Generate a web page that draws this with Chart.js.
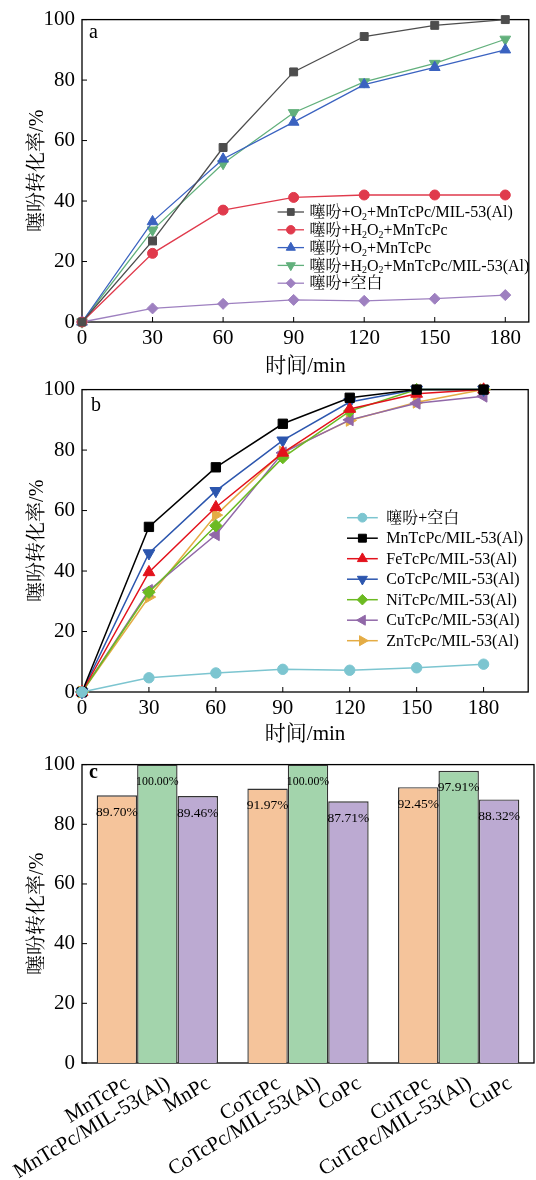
<!DOCTYPE html>
<html lang="zh">
<head>
<meta charset="UTF-8">
<title>噻吩转化率</title>
<script src="https://cdn.jsdelivr.net/npm/chart.js"></script>
<style>
  html, body { margin: 0; padding: 0; background: #fff; }
  body { width: 536px; height: 1180px; position: relative; overflow: hidden; }
  .panel { position: absolute; left: 0; width: 536px; }
  #pa { top: 0; height: 382px; }
  #pb { top: 370px; height: 380px; }
  #pc { top: 745px; height: 435px; }
</style>
</head>
<body>
<div class="panel" id="pa"><canvas id="ca"></canvas></div>
<div class="panel" id="pb"><canvas id="cb"></canvas></div>
<div class="panel" id="pc"><canvas id="cc"></canvas></div>

<script>
// ---- data ----
const timeMin = [0, 30, 60, 90, 120, 150, 180];

// panel a
const aO2MnMil   = [0, 26.8, 57.7, 82.7, 94.4, 98.1, 100];
const aH2O2Mn    = [0, 22.7, 37.0, 41.2, 42.0, 42.0, 42.0];
const aO2Mn      = [0, 33.2, 53.9, 66.1, 78.5, 84.2, 90.0];
const aH2O2MnMil = [0, 30.4, 52.4, 69.2, 79.4, 85.5, 93.5];
const aBlank     = [0, 4.5, 6.0, 7.3, 7.0, 7.7, 8.9];
const aLabels = ['噻吩+O₂+MnTcPc/MIL-53(Al)', '噻吩+H₂O₂+MnTcPc', '噻吩+O₂+MnTcPc',
                 '噻吩+H₂O₂+MnTcPc/MIL-53(Al)', '噻吩+空白'];

// panel b
const bBlank = [0, 4.7, 6.3, 7.5, 7.2, 8.0, 9.2];
const bMn    = [0, 54.6, 74.3, 88.7, 97.3, 100, 100];
const bFe    = [0, 39.6, 61.1, 79.1, 93.6, 98.6, 100];
const bCo    = [0, 45.9, 66.5, 83.2, 95.9, 100, 100];
const bNi    = [0, 33.0, 55.0, 77.5, 92.9, 100, 100];
const bCu    = [0, 33.6, 52.0, 79.1, 90.0, 95.5, 97.8];
const bZn    = [0, 31.4, 58.5, 79.4, 89.8, 95.8, 100];
const bLabels = ['噻吩+空白', 'MnTcPc/MIL-53(Al)', 'FeTcPc/MIL-53(Al)', 'CoTcPc/MIL-53(Al)',
                 'NiTcPc/MIL-53(Al)', 'CuTcPc/MIL-53(Al)', 'ZnTcPc/MIL-53(Al)'];

// panel c
const metals = ['Mn', 'Co', 'Cu'];
const tcpcNames = ['MnTcPc', 'CoTcPc', 'CuTcPc'];
const milNames  = ['MnTcPc/MIL-53(Al)', 'CoTcPc/MIL-53(Al)', 'CuTcPc/MIL-53(Al)'];
const pcNames   = ['MnPc', 'CoPc', 'CuPc'];
const tcpcVals = [89.70, 91.97, 92.45];
const milVals  = [100.00, 100.00, 97.91];
const pcVals   = [89.46, 87.71, 88.32];

const yTicks = [0, 20, 40, 60, 80, 100];

// ---- helpers ----
const SERIF = '"Liberation Serif", "Times New Roman", "Noto Serif CJK SC", "Noto Sans CJK SC", serif';
Chart.defaults.font.family = SERIF;
Chart.defaults.color = '#000';

function pts(ys) {
  return ys.map((y, i) => ({ x: timeMin[i], y: y }));
}

// text with ₂ drawn as a real subscript
function drawRich(ctx, text, x, y, size) {
  let cx = x;
  for (const ch of text) {
    if (ch === '₂') {
      ctx.font = (size * 0.62) + 'px ' + SERIF;
      ctx.fillText('2', cx, y + size * 0.28);
      cx += ctx.measureText('2').width;
    } else {
      ctx.font = size + 'px ' + SERIF;
      ctx.fillText(ch, cx, y);
      cx += ctx.measureText(ch).width;
    }
  }
}

const framePlugin = {
  id: 'frame',
  beforeDatasetsDraw(chart, args, opts) {
    const { ctx, chartArea: a } = chart;
    ctx.save();
    ctx.strokeStyle = '#000';
    ctx.lineWidth = 1.3;
    ctx.strokeRect(a.left, a.top, a.right - a.left, a.bottom - a.top);
    // inward ticks
    ctx.lineWidth = 1;
    chart.scales.y.ticks.forEach(t => {
      const py = chart.scales.y.getPixelForValue(t.value);
      ctx.beginPath(); ctx.moveTo(a.left, py); ctx.lineTo(a.left + 5, py); ctx.stroke();
    });
    if (chart.scales.x.type === 'linear') {
      chart.scales.x.ticks.forEach(t => {
        const px = chart.scales.x.getPixelForValue(t.value);
        ctx.beginPath(); ctx.moveTo(px, a.bottom); ctx.lineTo(px, a.bottom - 5); ctx.stroke();
      });
    }
    // panel letter
    ctx.fillStyle = '#000';
    ctx.font = (opts.bold ? 'bold ' : '') + '20px ' + SERIF;
    ctx.textBaseline = 'middle';
    ctx.textAlign = 'left';
    ctx.fillText(opts.letter, opts.lx, opts.ly);
    ctx.restore();
  }
};

const legendPlugin = {
  id: 'boxLegend',
  afterDraw(chart, args, opts) {
    if (!opts.show) return;
    const ctx = chart.ctx;
    ctx.save();
    chart.data.datasets.forEach((ds, i) => {
      const y = opts.y + i * opts.rowH;
      ctx.strokeStyle = ds.borderColor;
      ctx.lineWidth = ds.borderWidth;
      ctx.beginPath(); ctx.moveTo(opts.x, y); ctx.lineTo(opts.x + opts.lineLen, y); ctx.stroke();
      ctx.fillStyle = ds.backgroundColor;
      ctx.lineWidth = 1;
      Chart.helpers.drawPoint(ctx, {
        pointStyle: ds.pointStyle, radius: ds.pointRadius * 0.85,
        rotation: ds.pointRotation || 0, borderWidth: 1
      }, opts.x + opts.lineLen / 2, y);
      ctx.fillStyle = '#000';
      ctx.textBaseline = 'middle';
      ctx.textAlign = 'left';
      drawRich(ctx, ds.label, opts.x + opts.lineLen + opts.gap, y + 1, opts.size);
    });
    ctx.restore();
  }
};

function lineDs(label, ys, color, style, r, rot, bw) {
  return {
    label: label, data: pts(ys), borderColor: color, backgroundColor: color,
    pointBorderColor: color, pointBackgroundColor: color,
    borderWidth: bw, pointStyle: style, pointRadius: r, pointRotation: rot || 0,
    pointBorderWidth: 1, tension: 0, clip: false
  };
}

function lineChart(id, datasets, xMax, padTop, padRight, xH, frame, legend) {
  return new Chart(document.getElementById(id), {
    type: 'line',
    data: { datasets: datasets },
    options: {
      responsive: true, maintainAspectRatio: false, animation: false,
      layout: { padding: { left: 24, right: padRight, top: padTop, bottom: 0 } },
      plugins: { legend: { display: false }, tooltip: { enabled: false },
                 frame: frame, boxLegend: legend },
      scales: {
        x: {
          type: 'linear', min: 0, max: xMax,
          ticks: { stepSize: 30, includeBounds: false, font: { size: 21 }, padding: 4, maxRotation: 0, color: '#000' },
          grid: { display: false, drawTicks: false },
          border: { display: false },
          title: { display: true, text: '时间/min', font: { size: 21 }, padding: { top: 0, bottom: 3 }, color: '#000' },
          afterFit: s => { s.height = xH; }
        },
        y: {
          min: 0, max: 100,
          afterBuildTicks: s => { s.ticks = yTicks.map(v => ({ value: v })); },
          ticks: { font: { size: 21 }, padding: 7, color: '#000' },
          grid: { display: false, drawTicks: false },
          border: { display: false },
          title: { display: true, text: '噻吩转化率/%', font: { size: 20 }, padding: { top: 2, bottom: 0 }, color: '#000' },
          afterFit: s => { s.width = 58; }
        }
      }
    },
    plugins: [framePlugin, legendPlugin]
  });
}

// ---- panel a ----
lineChart('ca', [
  lineDs(aLabels[0], aO2MnMil,   '#4d4d4d', 'rect', 5.6, 0, 1.3),
  lineDs(aLabels[1], aH2O2Mn,    '#e03a4c', 'circle', 5, 0, 1.3),
  lineDs(aLabels[2], aO2Mn,      '#3a62c0', 'triangle', 6.2, 0, 1.3),
  lineDs(aLabels[3], aH2O2MnMil, '#62b07c', 'triangle', 6.2, 180, 1.3),
  lineDs(aLabels[4], aBlank,     '#9e80c0', 'rectRot', 5.5, 0, 1.3)
], 190, 19, 2, 60,
  { letter: 'a', lx: 89, ly: 33, bold: false },
  { show: true, x: 277.6, y: 212, rowH: 17.8, lineLen: 26.4, gap: 5.4, size: 16 });

// ---- panel b ----
lineChart('cb', [
  lineDs(bLabels[0], bBlank, '#7cc5d0', 'circle', 5.2, 0, 1.5),
  lineDs(bLabels[1], bMn,    '#000000', 'rect', 6.6, 0, 1.5),
  lineDs(bLabels[2], bFe,    '#e3121c', 'triangle', 6.8, 0, 1.5),
  lineDs(bLabels[3], bCo,    '#2c56ae', 'triangle', 6.8, 180, 1.5),
  lineDs(bLabels[4], bNi,    '#6cba22', 'rectRot', 6.2, 0, 1.5),
  lineDs(bLabels[5], bCu,    '#9168a8', 'triangle', 6.8, -90, 1.5),
  lineDs(bLabels[6], bZn,    '#e4ac45', 'triangle', 6.8, 90, 1.5)
], 200, 18, 1, 58,
  { letter: 'b', lx: 91, ly: 36, bold: false },
  { show: true, x: 347, y: 147.7, rowH: 20.5, lineLen: 30.8, gap: 8.5, size: 16 });

// ---- panel c ----
const barNames = [tcpcNames, milNames, pcNames];

const barLabelPlugin = {
  id: 'barLabels',
  afterDatasetsDraw(chart) {
    const ctx = chart.ctx;
    ctx.save();
    chart.data.datasets.forEach((ds, di) => {
      chart.getDatasetMeta(di).data.forEach((el, i) => {
        const w = el.width;
        // value text inside the bar top
        ctx.fillStyle = '#000';
        ctx.font = '13.5px ' + SERIF;
        ctx.textAlign = 'center';
        ctx.textBaseline = 'middle';
        ctx.fillText(ds.data[i].toFixed(2) + '%', el.x, el.y + 17, w + 2);
        // rotated category name below the axis
        ctx.save();
        ctx.translate(el.x + 11, chart.chartArea.bottom + 19);
        ctx.rotate(-31 * Math.PI / 180);
        ctx.font = '21px ' + SERIF;
        ctx.textAlign = 'right';
        ctx.textBaseline = 'middle';
        ctx.fillText(barNames[di][i], 0, 0);
        ctx.restore();
      });
    });
    ctx.restore();
  }
};

new Chart(document.getElementById('cc'), {
  type: 'bar',
  data: {
    labels: metals,
    datasets: [
      { label: 'TcPc', data: tcpcVals, backgroundColor: '#f5c49b' },
      { label: 'TcPc/MIL-53(Al)', data: milVals, backgroundColor: '#a3d4ac' },
      { label: 'Pc', data: pcVals, backgroundColor: '#bcaad2' }
    ].map(d => Object.assign(d, { borderColor: '#333', borderWidth: 1.4, barPercentage: 1, categoryPercentage: 0.805 }))
  },
  options: {
    responsive: true, maintainAspectRatio: false, animation: false,
    layout: { padding: { left: 24, right: 2, top: 14, bottom: 0 } },
    plugins: { legend: { display: false }, tooltip: { enabled: false },
               frame: { letter: 'c', lx: 89, ly: 28, bold: true } },
    scales: {
      x: {
        ticks: { display: false },
        grid: { display: false, drawTicks: false },
        border: { display: false },
        afterFit: s => { s.height = 117; }
      },
      y: {
        min: 0, max: 100,
        afterBuildTicks: s => { s.ticks = yTicks.map(v => ({ value: v })); },
        ticks: { font: { size: 21 }, padding: 7, color: '#000' },
        grid: { display: false, drawTicks: false },
        border: { display: false },
        title: { display: true, text: '噻吩转化率/%', font: { size: 20 }, padding: { top: 2, bottom: 0 }, color: '#000' },
        afterFit: s => { s.width = 58; }
      }
    }
  },
  plugins: [framePlugin, barLabelPlugin]
});
</script>
</body>
</html>
